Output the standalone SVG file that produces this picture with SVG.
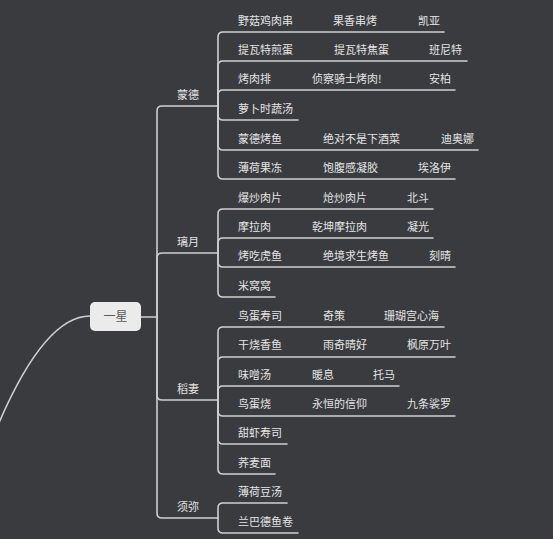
<svg xmlns="http://www.w3.org/2000/svg" width="553" height="539" viewBox="0 0 553 539">
<style>
.bg{fill:#3a3b3f}
.ln{fill:none;stroke:#cfcfd0;stroke-width:1.6;stroke-linecap:round}
.t{font-family:"Noto Sans CJK SC","Liberation Sans",sans-serif;font-size:11px;fill:#e4e4e4}
.b{font-family:"Noto Sans CJK SC","Liberation Sans",sans-serif;font-size:11px;fill:#e4e4e4;text-anchor:middle}
.r{font-family:"Noto Sans CJK SC","Liberation Sans",sans-serif;font-size:12px;fill:#5a5a5a;text-anchor:middle}
</style>
<rect class="bg" x="0" y="0" width="553" height="539"/>
<g id="connectors">
<path class="ln" d="M90,316 C58,316 28,355 -2,425"/>
<path class="ln" d="M141,317 H157"/>
<path class="ln" d="M157,317 V111 Q157,106 162,106 H218"/>
<path class="ln" d="M157,317 V258 Q157,253 162,253 H218"/>
<path class="ln" d="M157,317 V395 Q157,400 162,400 H218"/>
<path class="ln" d="M157,317 V513 Q157,518 162,518 H218"/>
<!-- Mondstadt -->
<path class="ln" d="M218,106 V37 Q218,32 223,32 H444"/>
<path class="ln" d="M218,106 V66 Q218,61 223,61 H467"/>
<path class="ln" d="M218,106 V95 Q218,90 223,90 H455"/>
<path class="ln" d="M218,106 V115 Q218,120 223,120 H298"/>
<path class="ln" d="M218,106 V145 Q218,150 223,150 H478"/>
<path class="ln" d="M218,106 V174 Q218,179 223,179 H455"/>
<!-- Liyue -->
<path class="ln" d="M218,253 V214 Q218,209 223,209 H433"/>
<path class="ln" d="M218,253 V243 Q218,238 223,238 H433"/>
<path class="ln" d="M218,253 V262 Q218,267 223,267 H455"/>
<path class="ln" d="M218,253 V292 Q218,297 223,297 H275"/>
<!-- Inazuma -->
<path class="ln" d="M218,400 V332 Q218,327 223,327 H444"/>
<path class="ln" d="M218,400 V362 Q218,357 223,357 H455"/>
<path class="ln" d="M218,400 V391 Q218,386 223,386 H399"/>
<path class="ln" d="M218,400 V411 Q218,416 223,416 H455"/>
<path class="ln" d="M218,400 V439 Q218,444 223,444 H287"/>
<path class="ln" d="M218,400 V469 Q218,474 223,474 H275"/>
<!-- Sumeru -->
<path class="ln" d="M218,518 V508 Q218,503 223,503 H287"/>
<path class="ln" d="M218,518 V528 Q218,533 223,533 H298"/>
</g>
<g id="root">
<rect x="90" y="302" width="51" height="29" rx="5" fill="#ebebeb"/>
<text class="r" x="115.5" y="320.5">一星</text>
</g>
<g id="mondstadt"><text class="b" x="188" y="98.5">蒙德</text></g>
<g id="liyue"><text class="b" x="188" y="245.5">璃月</text></g>
<g id="inazuma"><text class="b" x="188" y="393">稻妻</text></g>
<g id="sumeru"><text class="b" x="188" y="511">须弥</text></g>
<g id="m1"><text class="t" x="238" y="25">野菇鸡肉串</text><text class="t" x="333" y="25">果香串烤</text><text class="t" x="418" y="25">凯亚</text></g>
<g id="m2"><text class="t" x="238" y="54">提瓦特煎蛋</text><text class="t" x="334" y="54">提瓦特焦蛋</text><text class="t" x="429" y="54">班尼特</text></g>
<g id="m3"><text class="t" x="238" y="83">烤肉排</text><text class="t" x="312" y="83">侦察骑士烤肉!</text><text class="t" x="429" y="83">安柏</text></g>
<g id="m4"><text class="t" x="238" y="113">萝卜时蔬汤</text></g>
<g id="m5"><text class="t" x="238" y="143">蒙德烤鱼</text><text class="t" x="323" y="143">绝对不是下酒菜</text><text class="t" x="441" y="143">迪奥娜</text></g>
<g id="m6"><text class="t" x="238" y="172">薄荷果冻</text><text class="t" x="323" y="172">饱腹感凝胶</text><text class="t" x="418" y="172">埃洛伊</text></g>
<g id="l1"><text class="t" x="238" y="202">爆炒肉片</text><text class="t" x="323" y="202">炝炒肉片</text><text class="t" x="407" y="202">北斗</text></g>
<g id="l2"><text class="t" x="238" y="231">摩拉肉</text><text class="t" x="312" y="231">乾坤摩拉肉</text><text class="t" x="407" y="231">凝光</text></g>
<g id="l3"><text class="t" x="238" y="260">烤吃虎鱼</text><text class="t" x="323" y="260">绝境求生烤鱼</text><text class="t" x="429" y="260">刻晴</text></g>
<g id="l4"><text class="t" x="238" y="290">米窝窝</text></g>
<g id="i1"><text class="t" x="238" y="320">鸟蛋寿司</text><text class="t" x="323" y="320">奇策</text><text class="t" x="384" y="320">珊瑚宫心海</text></g>
<g id="i2"><text class="t" x="238" y="349">干烧香鱼</text><text class="t" x="323" y="349">雨奇晴好</text><text class="t" x="407" y="349">枫原万叶</text></g>
<g id="i3"><text class="t" x="238" y="379">味噌汤</text><text class="t" x="312" y="379">暖息</text><text class="t" x="373" y="379">托马</text></g>
<g id="i4"><text class="t" x="238" y="408">鸟蛋烧</text><text class="t" x="312" y="408">永恒的信仰</text><text class="t" x="407" y="408">九条裟罗</text></g>
<g id="i5"><text class="t" x="238" y="437">甜虾寿司</text></g>
<g id="i6"><text class="t" x="238" y="467">荞麦面</text></g>
<g id="s1"><text class="t" x="238" y="496">薄荷豆汤</text></g>
<g id="s2"><text class="t" x="238" y="526">兰巴德鱼卷</text></g>
</svg>
